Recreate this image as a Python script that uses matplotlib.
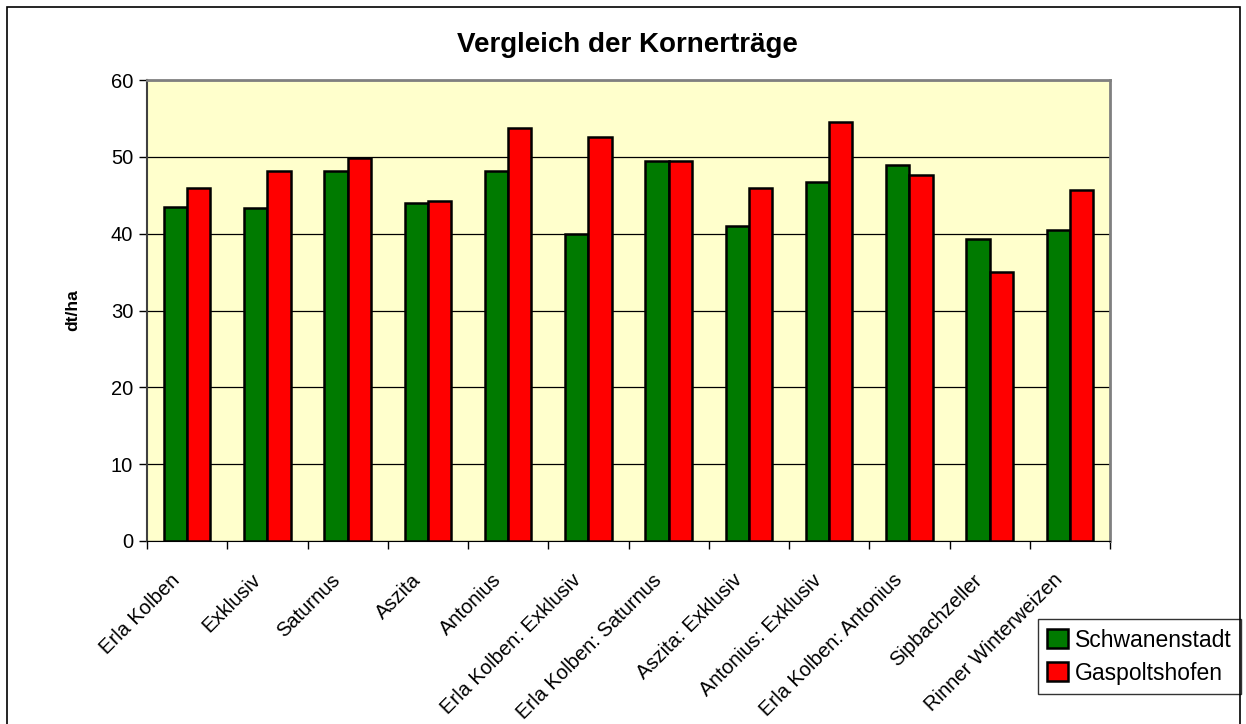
import matplotlib.pyplot as plt
import matplotlib.transforms as mtransforms
import numpy as np
from matplotlib.patches import Rectangle

plt.rcParams["font.family"] = ["Liberation Sans", "DejaVu Sans"]

sorten = [
    "Erla Kolben", "Exklusiv", "Saturnus", "Aszita", "Antonius",
    "Erla Kolben: Exklusiv", "Erla Kolben: Saturnus", "Aszita: Exklusiv",
    "Antonius: Exklusiv", "Erla Kolben: Antonius", "Sipbachzeller",
    "Rinner Winterweizen",
]
schwanenstadt = [43.5, 43.3, 48.1, 44.0, 48.1, 39.9, 49.5, 41.0, 46.7, 49.0, 39.3, 40.5]
gaspoltshofen = [45.9, 48.2, 49.8, 44.2, 53.8, 52.6, 49.4, 45.9, 54.5, 47.7, 35.0, 45.7]
yticks = [0, 10, 20, 30, 40, 50, 60]

fig = plt.figure(figsize=(12.46, 7.24), dpi=100)
ax = fig.add_axes([147 / 1246, 1 - 541 / 724, (1110 - 147) / 1246, (541 - 80) / 724])
ax.set_facecolor("#FFFFCC")

x = np.arange(len(sorten))
w = 0.29
ax.bar(x - w / 2, schwanenstadt, w, color="#007A00", edgecolor="black", linewidth=1.8,
       label="Schwanenstadt", zorder=3)
ax.bar(x + w / 2, gaspoltshofen, w, color="#FF0000", edgecolor="black", linewidth=1.8,
       label="Gaspoltshofen", zorder=3)

ax.set_xlim(-0.5, len(sorten) - 0.5)
ax.set_ylim(0, 60)
ax.set_yticks(yticks)
ax.tick_params(axis="y", labelsize=14.5, direction="out", length=6, width=1, pad=4)
ax.yaxis.grid(True, color="black", linewidth=0.9, zorder=0)

# ticks between categories, labels at centres
ax.set_xticks(np.arange(len(sorten) + 1) - 0.5)
ax.set_xticklabels([])
ax.tick_params(axis="x", direction="out", length=6, width=1)
ax.set_xticks(x, minor=True)
ax.set_xticklabels(sorten, minor=True, rotation=45, ha="right", va="center",
                   rotation_mode="anchor", fontsize=14.5)
ax.tick_params(axis="x", which="minor", length=0, pad=26)
shift = mtransforms.ScaledTranslation(-10 / 100, 0, fig.dpi_scale_trans)
for lab in ax.get_xticklabels(minor=True):
    lab.set_transform(lab.get_transform() + shift)

for side in ("top", "right"):
    ax.spines[side].set_color("#808080")
    ax.spines[side].set_linewidth(2)
ax.spines["left"].set_color("#404040")
ax.spines["left"].set_linewidth(1.5)
ax.spines["bottom"].set_color("black")

ax.set_ylabel("dt/ha", fontsize=12.5, fontweight="bold", labelpad=22)
fig.text(627 / 1246, 1 - 45 / 724, "Vergleich der Kornerträge", ha="center", va="center",
         fontsize=20, fontweight="bold")

leg = ax.legend(loc="lower left", bbox_to_anchor=(1038 / 1246, 1 - 694 / 724),
                bbox_transform=fig.transFigure, fontsize=16.5, frameon=True, fancybox=False,
                edgecolor="black", handlelength=0.9, handleheight=0.9, handletextpad=0.3,
                borderpad=0.4, labelspacing=0.45, borderaxespad=0)
leg.get_frame().set_linewidth(1.0)

# outer chart frame
fig.patches.append(Rectangle((7 / 1246, -0.01), (1240 - 7) / 1246, 1 - 7 / 724 + 0.01,
                             transform=fig.transFigure, fill=False, edgecolor="black",
                             linewidth=1.2))

fig.savefig("out.png", dpi=100)
